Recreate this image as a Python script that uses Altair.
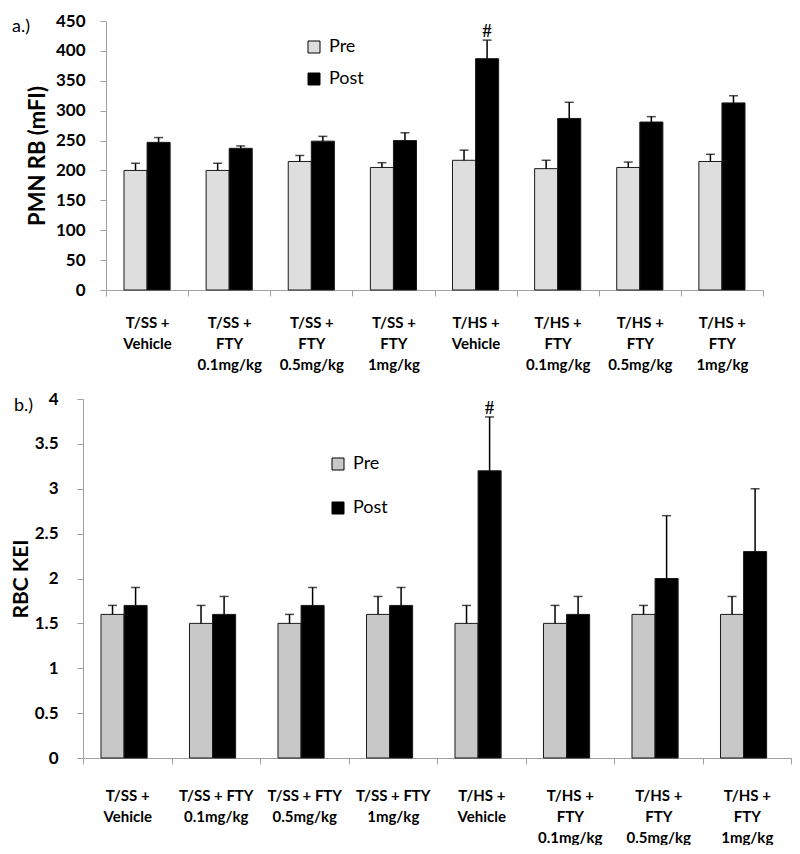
import altair as alt
import pandas as pd

# ---- data -----------------------------------------------------------------
groups_a = ["T/SS +|Vehicle", "T/SS +|FTY|0.1mg/kg", "T/SS +|FTY|0.5mg/kg", "T/SS +|FTY|1mg/kg",
            "T/HS +|Vehicle", "T/HS +|FTY|0.1mg/kg", "T/HS +|FTY|0.5mg/kg", "T/HS +|FTY|1mg/kg"]
groups_b = ["T/SS +|Vehicle", "T/SS + FTY|0.1mg/kg", "T/SS + FTY|0.5mg/kg", "T/SS + FTY|1mg/kg",
            "T/HS +|Vehicle", "T/HS +|FTY|0.1mg/kg", "T/HS +|FTY|0.5mg/kg", "T/HS +|FTY|1mg/kg"]
series = ["Pre", "Post"]

pmn_pre = [200, 200, 215, 205, 217, 203, 205, 215]
pmn_pre_err = [12, 12, 10, 8, 17, 14, 9, 12]
pmn_post = [247, 237, 249, 250, 387, 287, 281, 313]
pmn_post_err = [8, 4, 8, 13, 31, 27, 9, 12]

rbc_pre = [1.6, 1.5, 1.5, 1.6, 1.5, 1.5, 1.6, 1.6]
rbc_pre_err = [0.1, 0.2, 0.1, 0.2, 0.2, 0.2, 0.1, 0.2]
rbc_post = [1.7, 1.6, 1.7, 1.7, 3.2, 1.6, 2.0, 2.3]
rbc_post_err = [0.2, 0.2, 0.2, 0.2, 0.6, 0.2, 0.7, 0.7]

pmn_ticks = [0, 50, 100, 150, 200, 250, 300, 350, 400, 450]
rbc_ticks = [0, 0.5, 1, 1.5, 2, 2.5, 3, 3.5, 4]

sig_index = 4  # "#" over the Post bar of T/HS + Vehicle

FONT = "Lato"


def make_df(groups, pre, pre_err, post, post_err):
    rows = []
    for i, g in enumerate(groups):
        rows.append(dict(group=g, series="Pre", value=pre[i], err=pre_err[i], sig=""))
        rows.append(dict(group=g, series="Post", value=post[i], err=post_err[i],
                         sig="#" if i == sig_index else ""))
    return pd.DataFrame(rows)


def panel(df, groups, width, height, x_range, y_ticks, y_fmt, y_title, title_size, pre_color,
          legend_x, legend_y, row_pad, y_offset, tag, tag_x, tag_y, title_pad, label_pad,
          x_label_pad, outer_pad):
    if x_range:
        xscale = alt.Scale(paddingInner=0, paddingOuter=0, range=x_range)
    else:
        xscale = alt.Scale(paddingInner=0, paddingOuter=0)
    x = alt.X("group:N", sort=groups, scale=xscale,
              axis=alt.Axis(title=None, labelExpr="split(datum.label, '|')", tickBand="extent",
                            labelAngle=0, labelOverlap=False, labelFont=FONT,
                            labelFontWeight="bold", labelFontSize=15, labelLineHeight=21,
                            labelPadding=x_label_pad, tickSize=6, labelColor="black",
                            domainColor="#a0a0a0", tickColor="#a0a0a0"))
    xo = alt.XOffset("series:N", sort=series,
                     scale=alt.Scale(paddingInner=0, paddingOuter=outer_pad))
    yaxis = alt.Axis(values=y_ticks, offset=y_offset, grid=False, tickSize=6,
                     labelOverlap=False, format=y_fmt, title=y_title,
                     labelFont=FONT, labelFontWeight="bold", labelFontSize=17,
                     labelPadding=label_pad,
                     labelColor="black", domainColor="#a0a0a0", tickColor="#a0a0a0",
                     titleFont=FONT, titleFontWeight="bold", titleFontSize=title_size,
                     titleColor="black", titlePadding=title_pad)
    yscale = alt.Scale(domain=[y_ticks[0], y_ticks[-1]], nice=False)

    base = alt.Chart(df).encode(x=x, xOffset=xo)
    bars = base.mark_bar(stroke="#1a1a1a", strokeWidth=1).encode(
        y=alt.Y("value:Q", scale=yscale, axis=yaxis, title=y_title),
        color=alt.Color("series:N", sort=series,
                        scale=alt.Scale(domain=series, range=[pre_color, "#000000"]),
                        legend=alt.Legend(orient="none", legendX=legend_x, legendY=legend_y,
                                          title=None, direction="vertical", symbolType="square",
                                          symbolSize=144, symbolStrokeColor="black",
                                          symbolStrokeWidth=1, labelFont=FONT,
                                          labelFontSize=18, labelColor="black", labelOffset=6,
                                          rowPadding=row_pad, padding=0)),
    )
    tops = base.transform_calculate(top="datum.value + datum.err")
    stems = tops.mark_rule(color="black", strokeWidth=1.5).encode(
        y=alt.Y("value:Q", scale=yscale, axis=yaxis, title=y_title),
        y2=alt.Y2("top:Q", title=y_title))
    caps = tops.mark_tick(color="black", thickness=1.5, size=9).encode(
        y=alt.Y("top:Q", scale=yscale, axis=yaxis, title=y_title))
    hashes = tops.transform_filter("datum.sig != ''").mark_text(
        font="Liberation Serif", fontWeight="bold", fontSize=18, baseline="alphabetic", dy=-3,
        color="black").encode(y=alt.Y("top:Q", scale=yscale, axis=yaxis, title=y_title),
                              text="sig:N")
    tag_text = alt.Chart(pd.DataFrame({"t": [tag]})).mark_text(
        align="left", baseline="middle", font=FONT, fontSize=18, color="black").encode(
        x=alt.value(tag_x), y=alt.value(tag_y), text="t:N")
    return alt.layer(bars, stems, caps, hashes, tag_text).properties(width=width, height=height)


df_a = make_df(groups_a, pmn_pre, pmn_pre_err, pmn_post, pmn_post_err)
df_b = make_df(groups_b, rbc_pre, rbc_pre_err, rbc_post, rbc_post_err)

chart_a = panel(df_a, groups_a, 680, 269, [23, 680], pmn_ticks, "d", "PMN RB (mFI)", 22,
                "#dedede", 222, 17, 14, -23, "a.)", -71, 6, 6, 15, 19, 0.78)
chart_b = panel(df_b, groups_b, 708, 359, None, rbc_ticks, "~g", "RBC KEI", 21,
                "#c8c8c8", 246, 56, 26, 0, "b.)", -69, 7, 3, 19, 24, 0.72)

chart = alt.vconcat(chart_a, chart_b, spacing=18).resolve_scale(
    color="independent").resolve_legend(color="independent").properties(
    padding={"left": 2, "top": 4, "right": 0, "bottom": 0}).configure_view(stroke=None)

chart.save("out.html", embed_options={"renderer": "svg", "actions": False})
